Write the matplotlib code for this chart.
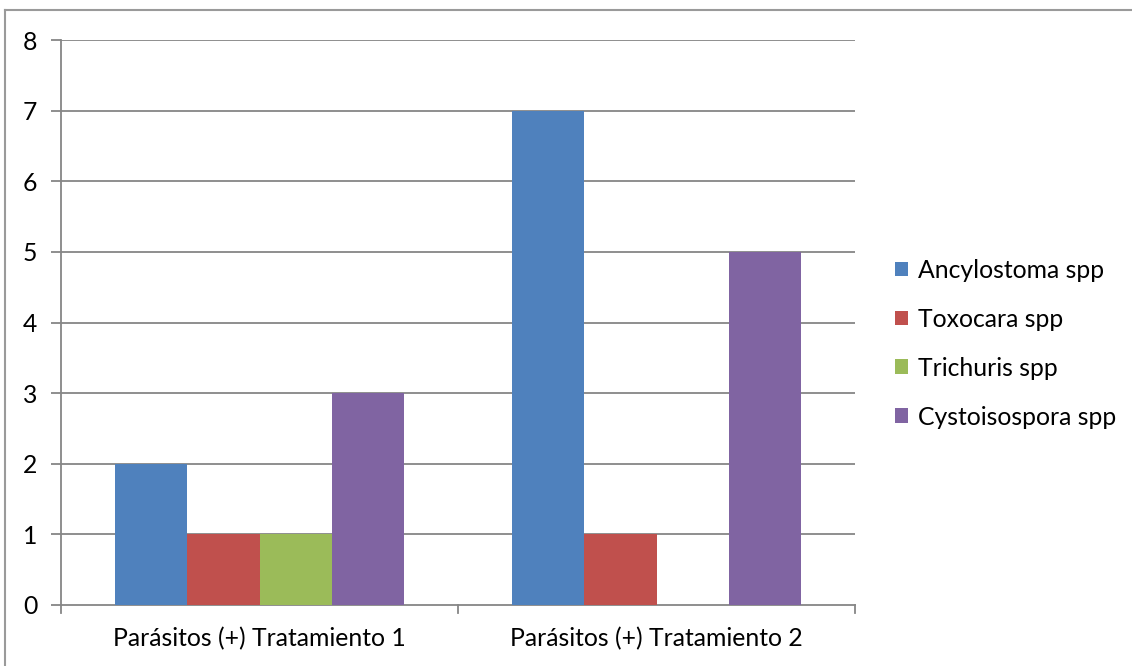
import numpy as np
import matplotlib
matplotlib.use("Agg")
import matplotlib.pyplot as plt
from matplotlib.lines import Line2D

# ── data ────────────────────────────────────────────────────
categories = ["Parásitos (+) Tratamiento 1", "Parásitos (+) Tratamiento 2"]
species = ["Ancylostoma spp", "Toxocara spp", "Trichuris spp", "Cystoisospora spp"]
ancylostoma = [2, 7]
toxocara = [1, 1]
trichuris = [1, 0]
cystoisospora = [3, 5]
yticks = [0, 1, 2, 3, 4, 5, 6, 7, 8]

series = [ancylostoma, toxocara, trichuris, cystoisospora]
colors = ["#4F81BD", "#C0504D", "#9BBB59", "#8064A2"]
GRID = "#868686"
FS = 17.8

plt.rcParams["font.family"] = ["Lato", "DejaVu Sans"]

fig = plt.figure(figsize=(11.32, 6.66), dpi=100)
ax = fig.add_axes([61 / 1132, 1 - 605 / 666, 794 / 1132, 565 / 666])

x = np.arange(len(categories))
w = 0.182
for i, (vals, col) in enumerate(zip(series, colors)):
    ax.bar(x + (i - 1.5) * w, vals, width=w, color=col, label=species[i],
           zorder=3, linewidth=0)

ax.set_xlim(-0.5, 1.5)
ax.set_ylim(0, 8)
ax.set_yticks(yticks)
ax.set_yticklabels([str(t) for t in yticks], fontsize=FS)
ax.set_xticks(x)
ax.set_xticklabels(categories, fontsize=FS)
ax.tick_params(axis="x", length=0, pad=16)
ax.tick_params(axis="y", length=7, width=1.3, color=GRID, pad=10)

# horizontal gridlines, Excel style
for t in yticks[1:]:
    ax.axhline(t, color=GRID, lw=1.3, zorder=1)

for s in ["top", "right"]:
    ax.spines[s].set_visible(False)
for s in ["left", "bottom"]:
    ax.spines[s].set_color(GRID)
    ax.spines[s].set_linewidth(1.3)

# category separators below the axis
for xb in [-0.5, 0.5, 1.5]:
    ax.plot([xb, xb], [0, -0.11], color=GRID, lw=1.3, clip_on=False, zorder=2)

leg = ax.legend(loc="center left", bbox_to_anchor=(1.022, 0.4625), frameon=False,
                fontsize=FS, handlelength=0.55, handleheight=0.55,
                handletextpad=0.4, labelspacing=1.05)

# chart frame (top and left edges)
fig.add_artist(Line2D([5 / 1132, 5 / 1132], [0, 1 - 10 / 666], color="#9a9a9a",
                      lw=1.5, transform=fig.transFigure))
fig.add_artist(Line2D([5 / 1132, 1], [1 - 10 / 666, 1 - 10 / 666], color="#9a9a9a",
                      lw=1.5, transform=fig.transFigure))

fig.savefig("out.png", dpi=100)
